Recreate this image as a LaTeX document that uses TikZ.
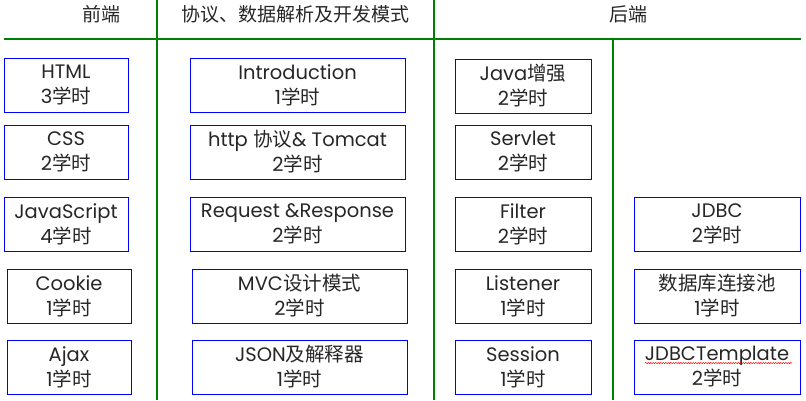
\documentclass[tikz,border=0pt]{standalone}
\usepackage{fontspec}
\setmainfont{Poppins}
\newfontfamily\cjk{Noto Sans CJK SC}
\usetikzlibrary{positioning,decorations.pathmorphing}
\definecolor{boxblue}{RGB}{0,0,255}
\definecolor{rulegreen}{RGB}{0,128,0}
\newcommand{\hrs}[1]{#1{\cjk 学时}}

\begin{document}
\begin{tikzpicture}[x=1pt, y=-1pt,
  course/.style={draw=boxblue, line width=1pt, align=center, inner sep=0pt, outer sep=0pt,
    minimum height=54pt, text=black!85, font=\fontsize{19.5}{25}\selectfont},
  col1/.style={course, minimum width=124pt},
  col2/.style={course, minimum width=215pt},
  col3/.style={course, minimum width=136pt},
  col4/.style={course, minimum width=166pt},
  head/.style={text=black!85, font=\cjk\fontsize{19}{20}\selectfont},
  rule/.style={draw=rulegreen, line width=2.5pt}]
\useasboundingbox (0,0) rectangle (806,400);
% headings and rules
\node[head] (front) at (101,14) {前端};
\node[head] (proto) at (295,14) {协议、数据解析及开发模式};
\node[head] (back) at (628,14) {后端};
\draw[rule] (4,39) -- (801,39);
\draw[rule] (157,0) -- (157,400);
\draw[rule] (434,0) -- (434,400);
\draw[rule] (613,39) -- (613,400);
%
\node[col1, anchor=north west] (html) at (4,58) {HTML\\\hrs{3}};
\node[col1, below=13pt of html] (css) {CSS\\\hrs{2}};
\node[col1, below=18pt of css] (js) {JavaScript\\\hrs{4}};
\node[col1, below=18pt of js, xshift=3pt] (cookie) {Cookie\\\hrs{1}};
\node[col1, below=17pt of cookie] (ajax) {Ajax\\\hrs{1}};
%
\node[col2, anchor=north west] (intro) at (190,58) {Introduction\\\hrs{1}};
\node[col2, below=13pt of intro] (http) {http {\cjk 协议}\& Tomcat\\\hrs{2}};
\node[col2, below=18pt of http] (reqres) {Request \&Response\\\hrs{2}};
\node[col2, below=18pt of reqres, xshift=2pt] (mvc) {MVC{\cjk 设计模式}\\\hrs{2}};
\node[col2, below=17pt of mvc] (json) {JSON{\cjk 及解释器}\\\hrs{1}};
%
\node[col3, anchor=north west] (javaplus) at (455,59) {Java{\cjk 增强}\\\hrs{2}};
\node[col3, below=12pt of javaplus] (servlet) {Servlet\\\hrs{2}};
\node[col3, below=18pt of servlet] (filter) {Filter\\\hrs{2}};
\node[col3, below=18pt of filter] (listener) {Listener\\\hrs{1}};
\node[col3, below=17pt of listener] (session) {Session\\\hrs{1}};
%
\node[col4, anchor=north west] (jdbc) at (634,197) {JDBC\\\hrs{2}};
\node[col4, below=18pt of jdbc] (pool) {{\cjk 数据库连接池}\\\hrs{1}};
\node[col4, below=17pt of pool] (jdbctpl) {JDBCTemplate\\\hrs{2}};
\draw[red, line width=0.5pt, decorate, decoration={snake, amplitude=0.6pt, segment length=2.5pt}]
  ([xshift=-72pt, yshift=4pt]jdbctpl.center) -- ([xshift=75pt, yshift=4pt]jdbctpl.center);
\end{tikzpicture}
\end{document}
